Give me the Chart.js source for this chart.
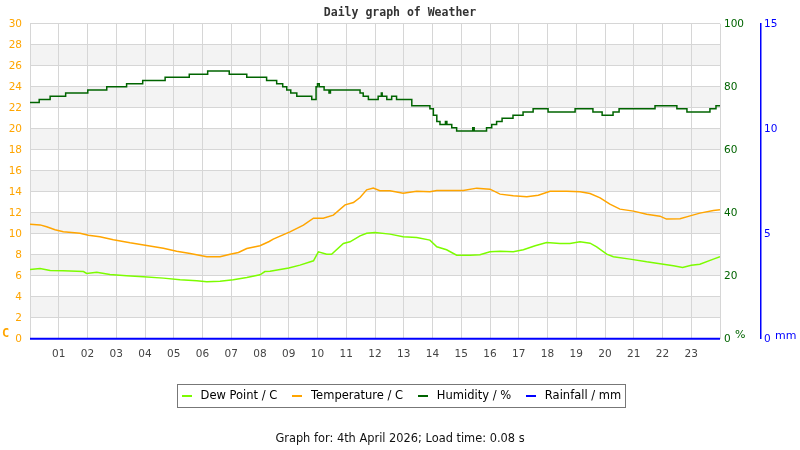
<!DOCTYPE html>
<html>
<head>
<meta charset="utf-8">
<title>Daily graph of Weather</title>
<script src="https://cdn.jsdelivr.net/npm/chart.js@4.4.1/dist/chart.umd.min.js"></script>
<style>
  body { margin: 0; background: #fff; }
  #wrap { width: 800px; height: 450px; }
</style>
</head>
<body>
<div id="wrap"><canvas id="weatherChart" width="800" height="450"></canvas></div>
<script>
// values, time in hours since midnight
var tempTimes = [0, 0.35, 0.58, 0.87, 1.16, 1.74, 2.03, 2.43, 2.9, 3.48, 4.06, 4.64, 5.1, 5.57, 6.15, 6.61, 6.96, 7.25, 7.54, 8.0, 8.32, 8.46, 9.04, 9.51, 9.86, 10.2, 10.55, 10.96, 11.25, 11.48, 11.71, 11.94, 12.17, 12.52, 12.98, 13.45, 13.91, 14.15, 14.61, 15.07, 15.54, 16.0, 16.35, 16.81, 17.28, 17.68, 18.09, 18.67, 19.13, 19.48, 19.83, 20.17, 20.52, 20.99, 21.45, 21.91, 22.14, 22.61, 22.96, 23.3, 23.77, 24];
var tempValues = [10.9, 10.85, 10.67, 10.38, 10.2, 10.06, 9.87, 9.71, 9.43, 9.14, 8.89, 8.63, 8.35, 8.13, 7.81, 7.81, 8.06, 8.22, 8.6, 8.86, 9.27, 9.49, 10.19, 10.83, 11.49, 11.49, 11.78, 12.76, 12.98, 13.46, 14.19, 14.35, 14.1, 14.1, 13.87, 14.06, 14.0, 14.13, 14.13, 14.13, 14.35, 14.25, 13.78, 13.62, 13.52, 13.68, 14.06, 14.06, 14.0, 13.84, 13.43, 12.83, 12.35, 12.16, 11.87, 11.68, 11.4, 11.43, 11.71, 11.97, 12.22, 12.29];

var dewTimes = [0, 0.35, 0.7, 1.16, 1.86, 1.97, 2.32, 2.78, 3.36, 3.94, 4.64, 5.22, 5.8, 6.15, 6.61, 7.07, 7.54, 8.0, 8.17, 8.35, 8.7, 9.0, 9.39, 9.86, 10.03, 10.32, 10.49, 10.9, 11.13, 11.48, 11.71, 12.0, 12.52, 12.98, 13.45, 13.91, 14.15, 14.49, 14.84, 15.3, 15.65, 16.0, 16.35, 16.81, 17.16, 17.57, 17.97, 18.43, 18.78, 19.13, 19.48, 19.71, 20.06, 20.29, 20.87, 21.45, 22.03, 22.38, 22.7, 23.0, 23.3, 23.77, 24];
var dewValues = [6.6, 6.7, 6.5, 6.48, 6.41, 6.22, 6.35, 6.12, 6.0, 5.9, 5.78, 5.62, 5.52, 5.43, 5.49, 5.62, 5.84, 6.1, 6.41, 6.43, 6.6, 6.75, 7.02, 7.43, 8.29, 8.06, 8.06, 9.08, 9.24, 9.81, 10.06, 10.13, 9.97, 9.71, 9.65, 9.4, 8.76, 8.48, 7.97, 7.97, 8.0, 8.29, 8.35, 8.29, 8.48, 8.86, 9.17, 9.08, 9.08, 9.24, 9.11, 8.76, 8.06, 7.81, 7.59, 7.33, 7.11, 6.95, 6.8, 7.0, 7.1, 7.59, 7.81];

// humidity is logged in whole percent, each value holds until the next time
var humTimes = [0, 0.32, 0.7, 1.24, 2.01, 2.67, 3.36, 3.92, 4.7, 5.54, 6.18, 6.93, 7.54, 8.23, 8.58, 8.79, 8.93, 9.07, 9.28, 9.8, 9.95, 10.0, 10.06, 10.23, 10.4, 10.45, 11.48, 11.59, 11.77, 12.11, 12.22, 12.25, 12.41, 12.58, 12.75, 13.28, 13.91, 14.03, 14.15, 14.26, 14.45, 14.5, 14.67, 14.84, 15.4, 15.45, 15.88, 16.06, 16.23, 16.42, 16.8, 17.15, 17.5, 18.02, 18.96, 19.58, 19.9, 20.28, 20.49, 21.74, 22.5, 22.85, 23.65, 23.86, 24];
var humValues = [75, 76, 77, 78, 79, 80, 81, 82, 83, 84, 85, 84, 83, 82, 81, 80, 79, 78, 77, 76, 80, 81, 80, 79, 78, 79, 78, 77, 76, 77, 78, 77, 76, 77, 76, 74, 73, 71, 69, 68, 69, 68, 67, 66, 67, 66, 67, 68, 69, 70, 71, 72, 73, 72, 73, 72, 71, 72, 73, 74, 73, 72, 73, 74, 74];

var rainTimes = [0, 24];
var rainValues = [0, 0];

var seriesNames = ['Dew Point / C', 'Temperature / C', 'Humidity / %', 'Rainfall / mm'];
var footerText = 'Graph for: 4th April 2026; Load time: 0.08 s';

function points(times, values) {
  var out = [];
  for (var i = 0; i < times.length; i++) {
    out.push({x: times[i], y: values[i]});
  }
  return out;
}

// little 10x2 line used as legend sample
function legendLine(color) {
  var c = document.createElement('canvas');
  c.width = 10;
  c.height = 2;
  var cx = c.getContext('2d');
  cx.fillStyle = color;
  cx.fillRect(0, 0, 10, 2);
  return c;
}

var gridColor = '#d6d6d6';
var baseFont = 'DejaVu Sans';

// grey bands behind every other 2 C step
var bandPlugin = {
  id: 'bands',
  beforeDraw: function (chart) {
    var ctx = chart.ctx, area = chart.chartArea, y = chart.scales.y;
    ctx.save();
    ctx.fillStyle = '#f3f3f3';
    for (var v = 2; v < 30; v += 4) {
      var top = y.getPixelForValue(v + 2);
      var bottom = y.getPixelForValue(v);
      ctx.fillRect(area.left, top, area.right - area.left, bottom - top);
    }
    ctx.restore();
  }
};

// unit labels under each axis + frame round the legend
var extrasPlugin = {
  id: 'extras',
  afterDraw: function (chart) {
    var ctx = chart.ctx, area = chart.chartArea;
    ctx.save();
    ctx.textBaseline = 'middle';
    ctx.textAlign = 'left';
    ctx.font = 'bold 12px "DejaVu Sans Mono"';
    ctx.fillStyle = '#ffa500';
    ctx.fillText('C', 2, area.bottom - 5);
    ctx.font = '11px ' + baseFont;
    ctx.fillStyle = '#006400';
    ctx.fillText('%', area.right + 15, area.bottom - 4);
    ctx.fillStyle = '#0000ff';
    ctx.fillText('mm', chart.scales.yRain.left + 14, area.bottom - 3);

    var lg = chart.legend;
    if (lg && lg.legendHitBoxes.length) {
      var hb = lg.legendHitBoxes;
      var left = hb[0].left - 2;
      var last = hb[hb.length - 1];
      var right = last.left + last.width + 4;
      var mid = hb[0].top + hb[0].height / 2;
      ctx.strokeStyle = '#777';
      ctx.lineWidth = 1;
      ctx.strokeRect(Math.round(left) + 0.5, Math.round(mid - 11.5) + 0.5, Math.round(right - left), 23);
    }
    ctx.restore();
  }
};

var chartData = {
  datasets: [
    {
      label: seriesNames[0],
      data: points(dewTimes, dewValues),
      borderColor: '#7cfc00',
      backgroundColor: '#7cfc00',
      borderWidth: 1.5,
      pointRadius: 0,
      yAxisID: 'y'
    },
    {
      label: seriesNames[1],
      data: points(tempTimes, tempValues),
      borderColor: '#ffa500',
      backgroundColor: '#ffa500',
      borderWidth: 1.5,
      pointRadius: 0,
      yAxisID: 'y'
    },
    {
      label: seriesNames[2],
      data: points(humTimes, humValues),
      borderColor: '#006400',
      backgroundColor: '#006400',
      borderWidth: 1.5,
      pointRadius: 0,
      stepped: true,
      yAxisID: 'yHum'
    },
    {
      label: seriesNames[3],
      data: points(rainTimes, rainValues),
      borderColor: '#0000ff',
      backgroundColor: '#0000ff',
      borderWidth: 2,
      pointRadius: 0,
      clip: false,
      yAxisID: 'yRain'
    }
  ]
};

var chartOptions = {
  responsive: false,
  animation: false,
  devicePixelRatio: 1,
  layout: { padding: 0 },
  plugins: {
    title: {
      display: true,
      text: 'Daily graph of Weather',
      color: '#333',
      font: { family: 'DejaVu Sans Mono', size: 11.5, weight: 'bold' },
      padding: { top: 6, bottom: 4 }
    },
    subtitle: {
      display: true,
      position: 'bottom',
      text: footerText,
      color: '#111',
      font: { family: baseFont, size: 11.4, weight: 'normal' },
      padding: { top: 21, bottom: 4 }
    },
    legend: {
      position: 'bottom',
      labels: {
        color: '#000',
        font: { family: baseFont, size: 11.5 },
        usePointStyle: true,
        pointStyleWidth: 16,
        boxHeight: 11.5,
        padding: 12,
        generateLabels: function (chart) {
          var items = Chart.defaults.plugins.legend.labels.generateLabels(chart);
          items.forEach(function (it) {
            it.lineWidth = 0;
            it.pointStyle = legendLine(chart.data.datasets[it.datasetIndex].borderColor);
          });
          return items;
        }
      }
    },
    tooltip: { enabled: false }
  },
  scales: {
    x: {
      type: 'linear',
      min: 0,
      max: 24,
      afterFit: function (s) { s.height = 39; },
      border: { display: false },
      grid: { color: gridColor, drawTicks: false },
      ticks: {
        stepSize: 1,
        padding: 9,
        color: '#444',
        font: { family: baseFont, size: 10.5 },
        maxRotation: 0,
        autoSkip: false,
        callback: function (v) {
          if (v <= 0 || v >= 24) return '';
          return (v < 10 ? '0' : '') + v;
        }
      }
    },
    y: {
      position: 'left',
      min: 0,
      max: 30,
      afterFit: function (s) { s.width = 30; },
      border: { display: false },
      grid: { color: gridColor, drawTicks: false },
      ticks: {
        stepSize: 2,
        padding: 8,
        color: '#ffa500',
        font: { family: baseFont, size: 10.5 }
      }
    },
    yHum: {
      position: 'right',
      min: 0,
      max: 100,
      afterFit: function (s) { s.width = 41; },
      border: { display: false },
      grid: { display: false, drawTicks: false },
      ticks: {
        stepSize: 20,
        padding: 4,
        color: '#006400',
        font: { family: baseFont, size: 10.5 }
      }
    },
    yRain: {
      position: 'right',
      min: 0,
      max: 15,
      afterFit: function (s) { s.width = 39; },
      border: { display: true, color: '#0000ff', width: 1.5 },
      grid: { display: false, drawTicks: false },
      ticks: {
        stepSize: 5,
        padding: 3,
        color: '#0000ff',
        font: { family: baseFont, size: 10.5 }
      }
    }
  }
};

var weatherChart = new Chart(document.getElementById('weatherChart'), {
  type: 'line',
  data: chartData,
  options: chartOptions,
  plugins: [bandPlugin, extrasPlugin]
});
</script>
</body>
</html>
